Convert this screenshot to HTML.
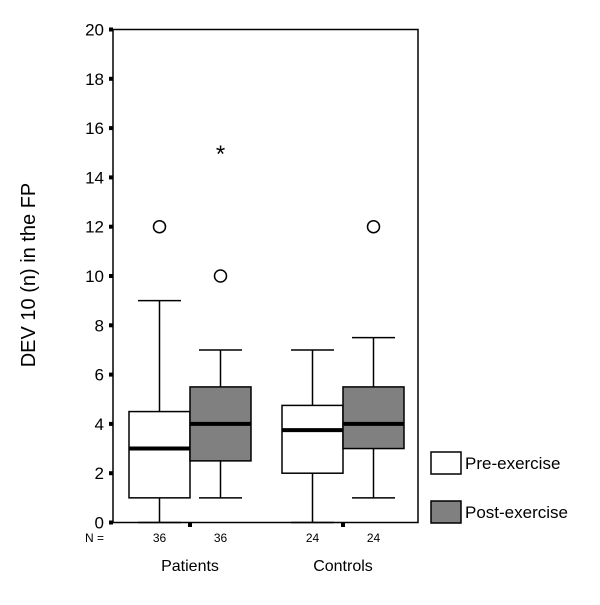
<!DOCTYPE html>
<html><head><meta charset="utf-8"><style>body{margin:0;background:#fff}svg{font-family:"Liberation Sans",sans-serif}</style></head>
<body>
<svg id="c" width="600" height="600" xmlns="http://www.w3.org/2000/svg"></svg>
<script>
const groups=["Patients","Controls"];
const groupN=[36,24];
const series=["Pre-exercise","Post-exercise"];
const mins=[[0,1],[0,1]];
const q1s=[[1,2.5],[2,3]];
const medians=[[3,4],[3.75,4]];
const q3s=[[4.5,5.5],[4.75,5.5]];
const maxs=[[9,7],[7,7.5]];
const circleOutliers=[[[12],[10]],[[],[12]]];
const starOutliers=[[[],[15]],[[],[]]];
const yTicks=[0,2,4,6,8,10,12,14,16,18,20];
const NS="http://www.w3.org/2000/svg",svg=document.getElementById('c');
const y=v=>522.5-v*24.65;
const groupCenter=g=>190+g*153;
const boxX=(g,s)=>groupCenter(g)-61+s*61;
function el(t,a,p){const e=document.createElementNS(NS,t);for(const k in a)e.setAttribute(k,a[k]);(p||svg).appendChild(e);return e;}
let e;
e=el('rect',{x:113,y:29.5,width:305,height:493,fill:'none',stroke:'#000','stroke-width':1.5});

yTicks.forEach(t=>{
 e=el('rect',{x:109,y:y(t)-2,width:4,height:4,fill:'#000'});
 
 e=el('text',{x:104,y:y(t)+6,'text-anchor':'end','font-size':17});e.textContent=t;
 
});
e=el('text',{x:0,y:0,'font-size':20,'text-anchor':'middle',transform:'translate(35,275) rotate(-90)'});e.textContent='DEV 10 (n) in the FP';

e=el('text',{x:85,y:542,'font-size':12});e.textContent='N =';

groups.forEach((gname,g)=>{
 e=el('rect',{x:groupCenter(g)-2,y:523,width:4,height:4,fill:'#000'});
 
 e=el('text',{x:groupCenter(g),y:571,'font-size':16,'text-anchor':'middle'});e.textContent=gname;
 
 series.forEach((s,si)=>{
  const x0=boxX(g,si),w=61,cx=x0+w/2,cw=43;
  const grp=el('g',{});
  
  
  el('line',{x1:cx,x2:cx,y1:y(mins[g][si]),y2:y(maxs[g][si]),stroke:'#000','stroke-width':1.5},grp);
  el('line',{x1:cx-cw/2,x2:cx+cw/2,y1:y(mins[g][si]),y2:y(mins[g][si]),stroke:'#000','stroke-width':1.5},grp);
  el('line',{x1:cx-cw/2,x2:cx+cw/2,y1:y(maxs[g][si]),y2:y(maxs[g][si]),stroke:'#000','stroke-width':1.5},grp);
  el('rect',{x:x0,y:y(q3s[g][si]),width:w,height:y(q1s[g][si])-y(q3s[g][si]),fill:si?'#808080':'#fff',stroke:'#000','stroke-width':1.5},grp);
  el('line',{x1:x0,x2:x0+w,y1:y(medians[g][si]),y2:y(medians[g][si]),stroke:'#000','stroke-width':4},grp);
  circleOutliers[g][si].forEach(v=>{e=el('circle',{cx:cx,cy:y(v),r:6,fill:'none',stroke:'#000','stroke-width':1.5});
   });
  starOutliers[g][si].forEach(v=>{e=el('text',{x:cx,y:y(v)+9,'font-size':24,'text-anchor':'middle'});e.textContent='*';
   });
  e=el('text',{x:cx,y:542,'font-size':12,'text-anchor':'middle'});e.textContent=groupN[g];
  
 });
});
series.forEach((s,si)=>{
 const ly=452+si*49;
 e=el('rect',{x:431,y:ly,width:30,height:22,fill:si?'#808080':'#fff',stroke:'#000','stroke-width':1.5});
 
 e=el('text',{x:465,y:ly+17,'font-size':17});e.textContent=s;
 
});
</script>
</body></html>
